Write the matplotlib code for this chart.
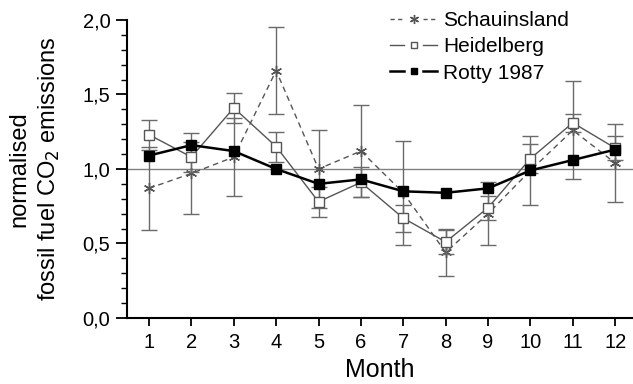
import matplotlib
matplotlib.use("Agg")
import matplotlib.pyplot as plt
from matplotlib.ticker import MultipleLocator, FuncFormatter
from matplotlib.lines import Line2D
from matplotlib.legend_handler import HandlerBase

plt.rcParams['font.family'] = ['Liberation Sans', 'DejaVu Sans']

months = [1, 2, 3, 4, 5, 6, 7, 8, 9, 10, 11, 12]

schau = [0.87, 0.97, 1.08, 1.66, 1.00, 1.12, 0.84, 0.44, 0.70, 0.99, 1.26, 1.04]
schau_err = [0.28, 0.27, 0.26, 0.29, 0.26, 0.31, 0.35, 0.16, 0.21, 0.23, 0.33, 0.26]

heid = [1.23, 1.08, 1.41, 1.15, 0.78, 0.91, 0.67, 0.51, 0.74, 1.07, 1.31, 1.14]
heid_err = [0.10, 0.10, 0.10, 0.10, 0.10, 0.10, 0.09, 0.08, 0.08, 0.10, 0.06, 0.08]

rotty = [1.09, 1.16, 1.12, 1.00, 0.90, 0.93, 0.85, 0.84, 0.87, 0.99, 1.06, 1.13]

series_labels = ['Schauinsland', 'Heidelberg', 'Rotty 1987']


class GapHandler(HandlerBase):
    """Legend handle: line - marker - line, with a gap around the marker."""
    def __init__(self, ms=5, **kw):
        super().__init__(**kw)
        self.ms = ms

    def create_artists(self, legend, orig_handle, xdescent, ydescent,
                       width, height, fontsize, trans):
        y = height / 2.0 - ydescent
        x0 = -xdescent
        x1 = width - xdescent
        xm = (x0 + x1) / 2.0
        gap = width * 0.2
        kw = dict(color=orig_handle.get_color(), ls=orig_handle.get_linestyle(),
                  lw=orig_handle.get_linewidth())
        if orig_handle.get_linestyle() in ('--', 'dashed'):
            kw['dashes'] = (3, 2.5)
        l1 = Line2D([x0, xm - gap], [y, y], **kw)
        l2 = Line2D([xm + gap, x1], [y, y], **kw)
        m = Line2D([xm], [y], ls='none', marker=orig_handle.get_marker(),
                   ms=self.ms, mfc=orig_handle.get_markerfacecolor(),
                   mec=orig_handle.get_markeredgecolor(), mew=1.0)
        arts = [l1, l2, m]
        for a in arts:
            a.set_transform(trans)
        return arts


fig = plt.figure(figsize=(6.33, 3.84), dpi=100)
ax = fig.add_axes([0.2006, 0.172, 0.7994, 0.776])

gray = '#555555'
egray = '#6a6a6a'
ax.axhline(1.0, color='#808080', lw=1.0, zorder=1)

ax.errorbar(months, schau, yerr=schau_err, color=gray, ls='--', dashes=(4, 3), lw=1.0,
            marker=(6, 2, 0), ms=8, mew=1.0, capsize=6, elinewidth=1.0,
            ecolor=egray, zorder=2)
ax.errorbar(months, heid, yerr=heid_err, color=gray, ls='-', lw=1.0,
            marker='s', ms=6.5, mfc='white', mec=gray, mew=1.0, capsize=6,
            elinewidth=1.0, ecolor=egray, zorder=3)
ax.plot(months, rotty, color='black', ls='-', lw=1.8, marker='s', ms=6.5,
        mfc='black', mec='black', zorder=4)

ax.set_xlim(0.48, 12.42)
ax.set_ylim(0, 2.0)
ax.set_xticks(months)
ax.yaxis.set_major_locator(MultipleLocator(0.5))
ax.yaxis.set_minor_locator(MultipleLocator(0.1))
ax.yaxis.set_major_formatter(FuncFormatter(lambda v, p: f"{v:.1f}".replace('.', ',')))

for s in ['top', 'right']:
    ax.spines[s].set_visible(False)
for s in ['left', 'bottom']:
    ax.spines[s].set_linewidth(1.5)

ax.tick_params(axis='x', which='major', direction='out', length=6, width=1.3,
               labelsize=14.5, pad=5)
ax.tick_params(axis='y', which='major', direction='out', length=8, width=1.3,
               labelsize=14.5, pad=4)
ax.tick_params(axis='y', which='minor', direction='out', length=4.5, width=1.0)

ax.set_xlabel('Month', fontsize=18, labelpad=4)
ax.set_ylabel('normalised\nfossil fuel CO$_2$ emissions', fontsize=17, labelpad=15,
              linespacing=1.3)

h_s = Line2D([], [], color=gray, ls='--', lw=1.0, marker=(6, 2, 0), mfc=gray, mec=gray)
h_h = Line2D([], [], color=gray, ls='-', lw=1.0, marker='s', mfc='white', mec=gray)
h_r = Line2D([], [], color='black', ls='-', lw=1.8, marker='s', mfc='black', mec='black')

ax.legend([h_s, h_h, h_r], series_labels,
          handler_map={h_s: GapHandler(ms=6.5), h_h: GapHandler(ms=5), h_r: GapHandler(ms=5)},
          loc='upper left', bbox_to_anchor=(0.52, 1.03), frameon=False,
          fontsize=15, handlelength=2.25, handletextpad=0.3,
          labelspacing=0.35, borderaxespad=0, borderpad=0)

fig.savefig('out.png', dpi=100)
